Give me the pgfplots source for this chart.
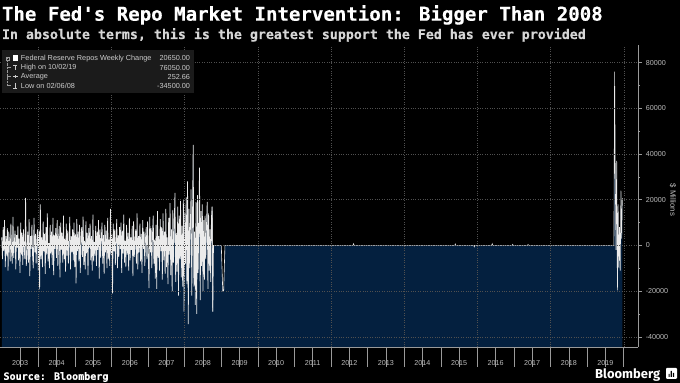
\documentclass[border=0pt]{standalone}
\usepackage{pgfplots}
\pgfplotsset{compat=1.18}
\usepackage{pgfplotstable}
\usepackage{fontspec}
\setmainfont{Liberation Sans}
\newfontfamily\titlefont{DejaVu Sans Mono}[BoldFeatures={FakeBold=0.4}]
\newfontfamily\logofont{Fira Sans}
\definecolor{navy}{HTML}{04203F}
\definecolor{lblgrey}{HTML}{BBBBBB}
\definecolor{axisgrey}{HTML}{9A9A9A}
\definecolor{gridgrey}{HTML}{505050}
\definecolor{legbg}{HTML}{1B1B1B}
\definecolor{legtxt}{HTML}{CCCCCC}
\definecolor{linecol}{HTML}{EBEBEB}
\definecolor{subcol}{HTML}{D6D6D6}

% weekly change, thousands of $ millions, weekly from Jan 2003 (w: unused)
\pgfplotstableread[row sep=\\]{w v\\
0 3.5\\ 0 -6.0\\ 0 8.0\\ 0 -2.5\\ 0 11.0\\ 0 -9.5\\ 0 4.0\\ 0 -4.5\\ 0 7.5\\ 0 -11.0\\ 0 6.0\\ 0 1.5\\ 0 -7.0\\
0 9.5\\ 0 -3.0\\ 0 -8.0\\ 0 12.5\\ 0 -5.5\\ 0 2.0\\ 0 6.5\\ 0 -10.5\\ 0 4.5\\ 0 -1.0\\ 0 8.5\\ 0 -6.5\\ 0 3.0\\
0 -12.0\\ 0 10.0\\ 0 -4.0\\ 0 5.5\\ 0 -8.5\\ 0 7.0\\ 0 -2.0\\ 0 -6.0\\ 0 20.8\\ 0 -9.0\\ 0 -3.5\\ 0 6.0\\ 0 -7.5\\
0 11.5\\ 0 -13.5\\ 0 4.0\\ 0 -1.5\\ 0 9.0\\ 0 -5.0\\ 0 -10.0\\ 0 12.0\\ 0 -3.0\\ 0 5.0\\ 0 -8.0\\ 0 2.5\\ 0 7.0\\
0 -11.0\\ 0 6.5\\ 0 -19.3\\ 0 18.0\\ 0 -6.0\\ 0 3.5\\ 0 -9.5\\ 0 10.5\\ 0 -2.5\\ 0 5.0\\ 0 -12.5\\ 0 8.0\\ 0 -4.0\\
0 14.0\\ 0 -7.0\\ 0 1.0\\ 0 -10.0\\ 0 9.0\\ 0 -3.5\\ 0 6.0\\ 0 -8.5\\ 0 12.0\\ 0 -13.0\\ 0 4.5\\ 0 -1.5\\ 0 7.5\\
0 -5.5\\ 0 11.0\\ 0 -9.0\\ 0 2.5\\ 0 8.5\\ 0 -14.0\\ 0 10.0\\ 0 -2.0\\ 0 5.5\\ 0 -7.5\\ 0 13.0\\ 0 -6.0\\ 0 3.0\\
0 -11.5\\ 0 9.5\\ 0 -4.5\\ 0 6.5\\ 0 -8.0\\ 0 1.5\\ 0 12.5\\ 0 -10.5\\ 0 4.0\\ 0 -3.0\\ 0 7.0\\ 0 -6.5\\ 0 10.0\\
0 -9.5\\ 0 5.0\\ 0 -16.6\\ 0 11.5\\ 0 -2.5\\ 0 6.0\\ 0 -7.0\\ 0 9.0\\ 0 -12.0\\ 0 3.5\\ 0 8.0\\ 0 -5.0\\ 0 12.6\\
0 -8.5\\ 0 2.0\\ 0 -10.5\\ 0 10.5\\ 0 -3.5\\ 0 5.5\\ 0 -13.0\\ 0 7.5\\ 0 -1.0\\ 0 9.5\\ 0 -6.5\\ 0 4.0\\ 0 -11.0\\
0 13.5\\ 0 -7.0\\ 0 1.5\\ 0 -4.5\\ 0 8.5\\ 0 -9.0\\ 0 6.0\\ 0 -2.0\\ 0 11.0\\ 0 -14.5\\ 0 7.0\\ 0 -5.5\\ 0 3.0\\
0 10.0\\ 0 -8.0\\ 0 4.5\\ 0 -12.5\\ 0 9.0\\ 0 -3.0\\ 0 6.5\\ 0 -10.0\\ 0 12.0\\ 0 -6.0\\ 0 2.5\\ 0 -9.0\\ 0 16.0\\
0 -4.0\\ 0 5.0\\ 0 -21.0\\ 0 9.5\\ 0 -2.5\\ 0 7.0\\ 0 -8.5\\ 0 3.0\\ 0 11.5\\ 0 -10.0\\ 0 4.5\\ 0 -5.0\\ 0 8.0\\
0 -1.5\\ 0 10.0\\ 0 -12.0\\ 0 6.5\\ 0 -3.5\\ 0 13.5\\ 0 -7.5\\ 0 2.0\\ 0 -9.5\\ 0 9.0\\ 0 -4.0\\ 0 5.5\\ 0 -11.0\\
0 12.0\\ 0 -6.5\\ 0 3.5\\ 0 -2.0\\ 0 8.5\\ 0 -13.5\\ 0 10.5\\ 0 -5.0\\ 0 1.0\\ 0 7.0\\ 0 -8.0\\ 0 14.0\\ 0 -10.5\\
0 4.0\\ 0 -3.0\\ 0 9.5\\ 0 -7.0\\ 0 5.0\\ 0 -12.0\\ 0 11.0\\ 0 -1.5\\ 0 6.0\\ 0 -9.0\\ 0 3.0\\ 0 8.0\\ 0 -6.0\\
0 10.5\\ 0 -4.5\\ 0 -18.7\\ 0 12.5\\ 0 -3.0\\ 0 7.5\\ 0 -10.0\\ 0 5.0\\ 0 13.0\\ 0 -8.0\\ 0 2.5\\ 0 -14.5\\ 0 9.0\\
0 -19.0\\ 0 15.0\\ 0 -5.5\\ 0 4.0\\ 0 -11.0\\ 0 11.5\\ 0 -2.5\\ 0 8.0\\ 0 -15.0\\ 0 14.0\\ 0 -6.5\\ 0 6.0\\ 0 -12.5\\
0 16.0\\ 0 -9.5\\ 0 3.5\\ 0 -17.0\\ 0 12.0\\ 0 -4.0\\ 0 18.5\\ 0 -13.0\\ 0 7.0\\ 0 -20.0\\ 0 15.5\\ 0 -7.5\\ 0 10.0\\
0 23.0\\ 0 -16.0\\ 0 5.5\\ 0 -11.5\\ 0 17.0\\ 0 -22.0\\ 0 13.0\\ 0 -6.0\\ 0 19.5\\ 0 -14.0\\ 0 8.5\\ 0 -18.0\\ 0 20.0\\
0 -29.0\\ 0 14.0\\ 0 -8.0\\ 0 21.0\\ 0 -17.0\\ 0 28.0\\ 0 -34.5\\ 0 16.0\\ 0 -10.0\\ 0 9.0\\ 0 24.5\\ 0 -22.0\\ 0 12.0\\
0 44.0\\ 0 -18.0\\ 0 6.0\\ 0 -26.0\\ 0 19.0\\ 0 -30.0\\ 0 22.0\\ 0 -12.0\\ 0 8.0\\ 0 34.0\\ 0 -24.0\\ 0 15.0\\ 0 -9.0\\
0 18.0\\ 0 -20.0\\ 0 11.0\\ 0 -15.0\\ 0 13.0\\ 0 -6.0\\ 0 9.0\\ 0 19.0\\ 0 -19.0\\ 0 14.0\\ 0 -11.0\\ 0 7.0\\ 0 -16.0\\
0 12.0\\ 0 17.0\\ 0 -29.0\\
}\noise

\pgfplotstableread{
x v
2008.7495 17
2008.7687 -29
2008.7879 0
2009.000 0
2009.040 -20
2009.065 -20
2009.100 0
2012.600 0
2012.615 0.7
2012.630 0
2015.380 0
2015.395 0.6
2015.410 0
2015.900 0
2015.915 -0.6
2015.930 0
2016.390 0
2016.405 0.7
2016.420 0
2016.950 0
2016.965 0.4
2016.980 0
2017.370 0
2017.385 0.4
2017.400 0
2019.731 0
2019.750 76.05
2019.769 29
2019.788 -2
2019.807 37
2019.827 -19.7
2019.846 18
2019.865 -10
2019.884 8
2019.903 -11
2019.923 24
2019.942 3
2019.961 20.65
}\rest

\begin{document}
\begin{tikzpicture}
\fill[black] (0pt,0pt) rectangle (680pt,383pt);
\begin{axis}[
  at={(0pt,36pt)}, anchor=south west, scale only axis,
  width=638pt, height=302pt,
  xmin=2002.96, xmax=2020.39, ymin=-44.4, ymax=87.7,
  axis on top,
  axis x line*=bottom, axis y line*=right,
  axis line style={draw=axisgrey, line width=0.6pt},
  tick align=outside,
  xtick={2004,2005,...,2020}, xticklabels={},
  x tick style={draw=axisgrey, line width=0.5pt, /pgfplots/major tick length=20pt},
  minor xtick={2004,2006,...,2020},
  minor x tick style={draw=none},
  xminorgrids=true,
  extra x ticks={2003.5,2004.5,...,2019.5},
  extra x tick labels={2003,2004,2005,2006,2007,2008,2009,2010,2011,2012,2013,2014,2015,2016,2017,2018,2019},
  extra x tick style={grid=none, /pgfplots/major tick length=0pt, xticklabel style={yshift=-10pt}},
  ytick={-40,-20,0,20,40,60,80},
  yticklabels={-40000,-20000,0,20000,40000,60000,80000},
  scaled y ticks=false,
  minor y tick num=1,
  y tick style={draw=axisgrey, line width=0.5pt, /pgfplots/major tick length=4pt, /pgfplots/minor tick length=2pt},
  ymajorgrids=true,
  major grid style={gridgrey, dotted, line width=0.5pt},
  minor grid style={gridgrey, dotted, line width=0.5pt},
  tick label style={font=\fontsize{7.2}{8}\selectfont, text=lblgrey},
]
\addplot[draw=none, fill=navy] table[x expr={2003+\coordindex*0.019165}, y=v] {\noise}
  -- (axis cs:2008.7687,-60) -- (axis cs:2003,-60) -- cycle;
\addplot[draw=none, fill=navy] table[x=x, y=v] {\rest}
  -- (axis cs:2019.961,-60) -- (axis cs:2008.7495,-60) -- cycle;
\addplot[linecol, line width=0.7pt] table[x expr={2003+\coordindex*0.019165}, y=v] {\noise};
\addplot[linecol, line width=0.6pt] table[x=x, y=v] {\rest};
\end{axis}

% titles
\node[anchor=base west, inner sep=0, text=white] at (1.5pt,362.3pt)
  {\resizebox{601pt}{!}{\titlefont\bfseries The Fed\textquotesingle s Repo Market Intervention: Bigger Than 2008}};
\node[anchor=base west, inner sep=0, text=subcol] at (1.5pt,344pt)
  {\resizebox{584pt}{!}{\titlefont\bfseries In absolute terms, this is the greatest support the Fed has ever provided}};

% legend
\fill[legbg] (2pt,289.7pt) rectangle (194pt,333pt);
\begin{scope}[font=\fontsize{7.3}{9}\selectfont, text=legtxt]
\node[anchor=west, inner sep=0] at (20.5pt,324.7pt) {Federal Reserve Repos Weekly Change};
\node[anchor=east, inner sep=0] at (190pt,324.7pt) {20650.00};
\node[anchor=west, inner sep=0] at (20.5pt,315.3pt) {High on 10/02/19};
\node[anchor=east, inner sep=0] at (190pt,315.3pt) {76050.00};
\node[anchor=west, inner sep=0] at (20.5pt,306.3pt) {Average};
\node[anchor=east, inner sep=0] at (190pt,306.3pt) {252.66};
\node[anchor=west, inner sep=0] at (20.5pt,297.3pt) {Low on 02/06/08};
\node[anchor=east, inner sep=0] at (190pt,297.3pt) {-34500.00};
\end{scope}
\draw[axisgrey, line width=0.4pt] (5.5pt,323.2pt) rectangle (8.5pt,326.2pt);
\draw[axisgrey, line width=0.4pt] (6.2pt,324.7pt) -- (7.8pt,324.7pt);
\fill[white] (12.5pt,322pt) rectangle (18pt,327.5pt);
\draw[axisgrey, line width=0.4pt, densely dotted] (7pt,323.2pt) -- (7pt,297.3pt);
\draw[axisgrey, line width=0.4pt] (7pt,315.3pt) -- (11pt,315.3pt) (7pt,306.3pt) -- (11pt,306.3pt) (7pt,297.3pt) -- (11pt,297.3pt);
\draw[legtxt, line width=0.5pt] (13pt,318pt) -- (17pt,318pt) (15pt,318pt) -- (15pt,313pt);
\draw[legtxt, line width=0.5pt] (12.5pt,306.3pt) -- (17.5pt,306.3pt) (15pt,304.8pt) -- (15pt,307.8pt);
\draw[legtxt, line width=0.5pt] (15pt,300pt) -- (15pt,295pt) (13pt,295pt) -- (17pt,295pt);

% axis title
\node[rotate=-90, text=lblgrey, font=\fontsize{7.8}{9}\selectfont] at (673pt,183pt) {\$ Millions};

% footer
\node[anchor=base west, inner sep=0, text=white] at (3pt,3pt)
  {\resizebox{105pt}{!}{\titlefont\bfseries Source: Bloomberg}};
\node[anchor=base west, inner sep=0, text=white] at (595pt,4pt)
  {\resizebox{65pt}{!}{\logofont\bfseries Bloomberg}};
\fill[white, rounded corners=1pt] (666pt,4pt) rectangle (677pt,15pt);
\fill[black] (668.5pt,6pt) rectangle (669.7pt,9pt) (670.7pt,6pt) rectangle (671.9pt,12pt) (672.9pt,6pt) rectangle (674.1pt,10pt);
\end{tikzpicture}
\end{document}
